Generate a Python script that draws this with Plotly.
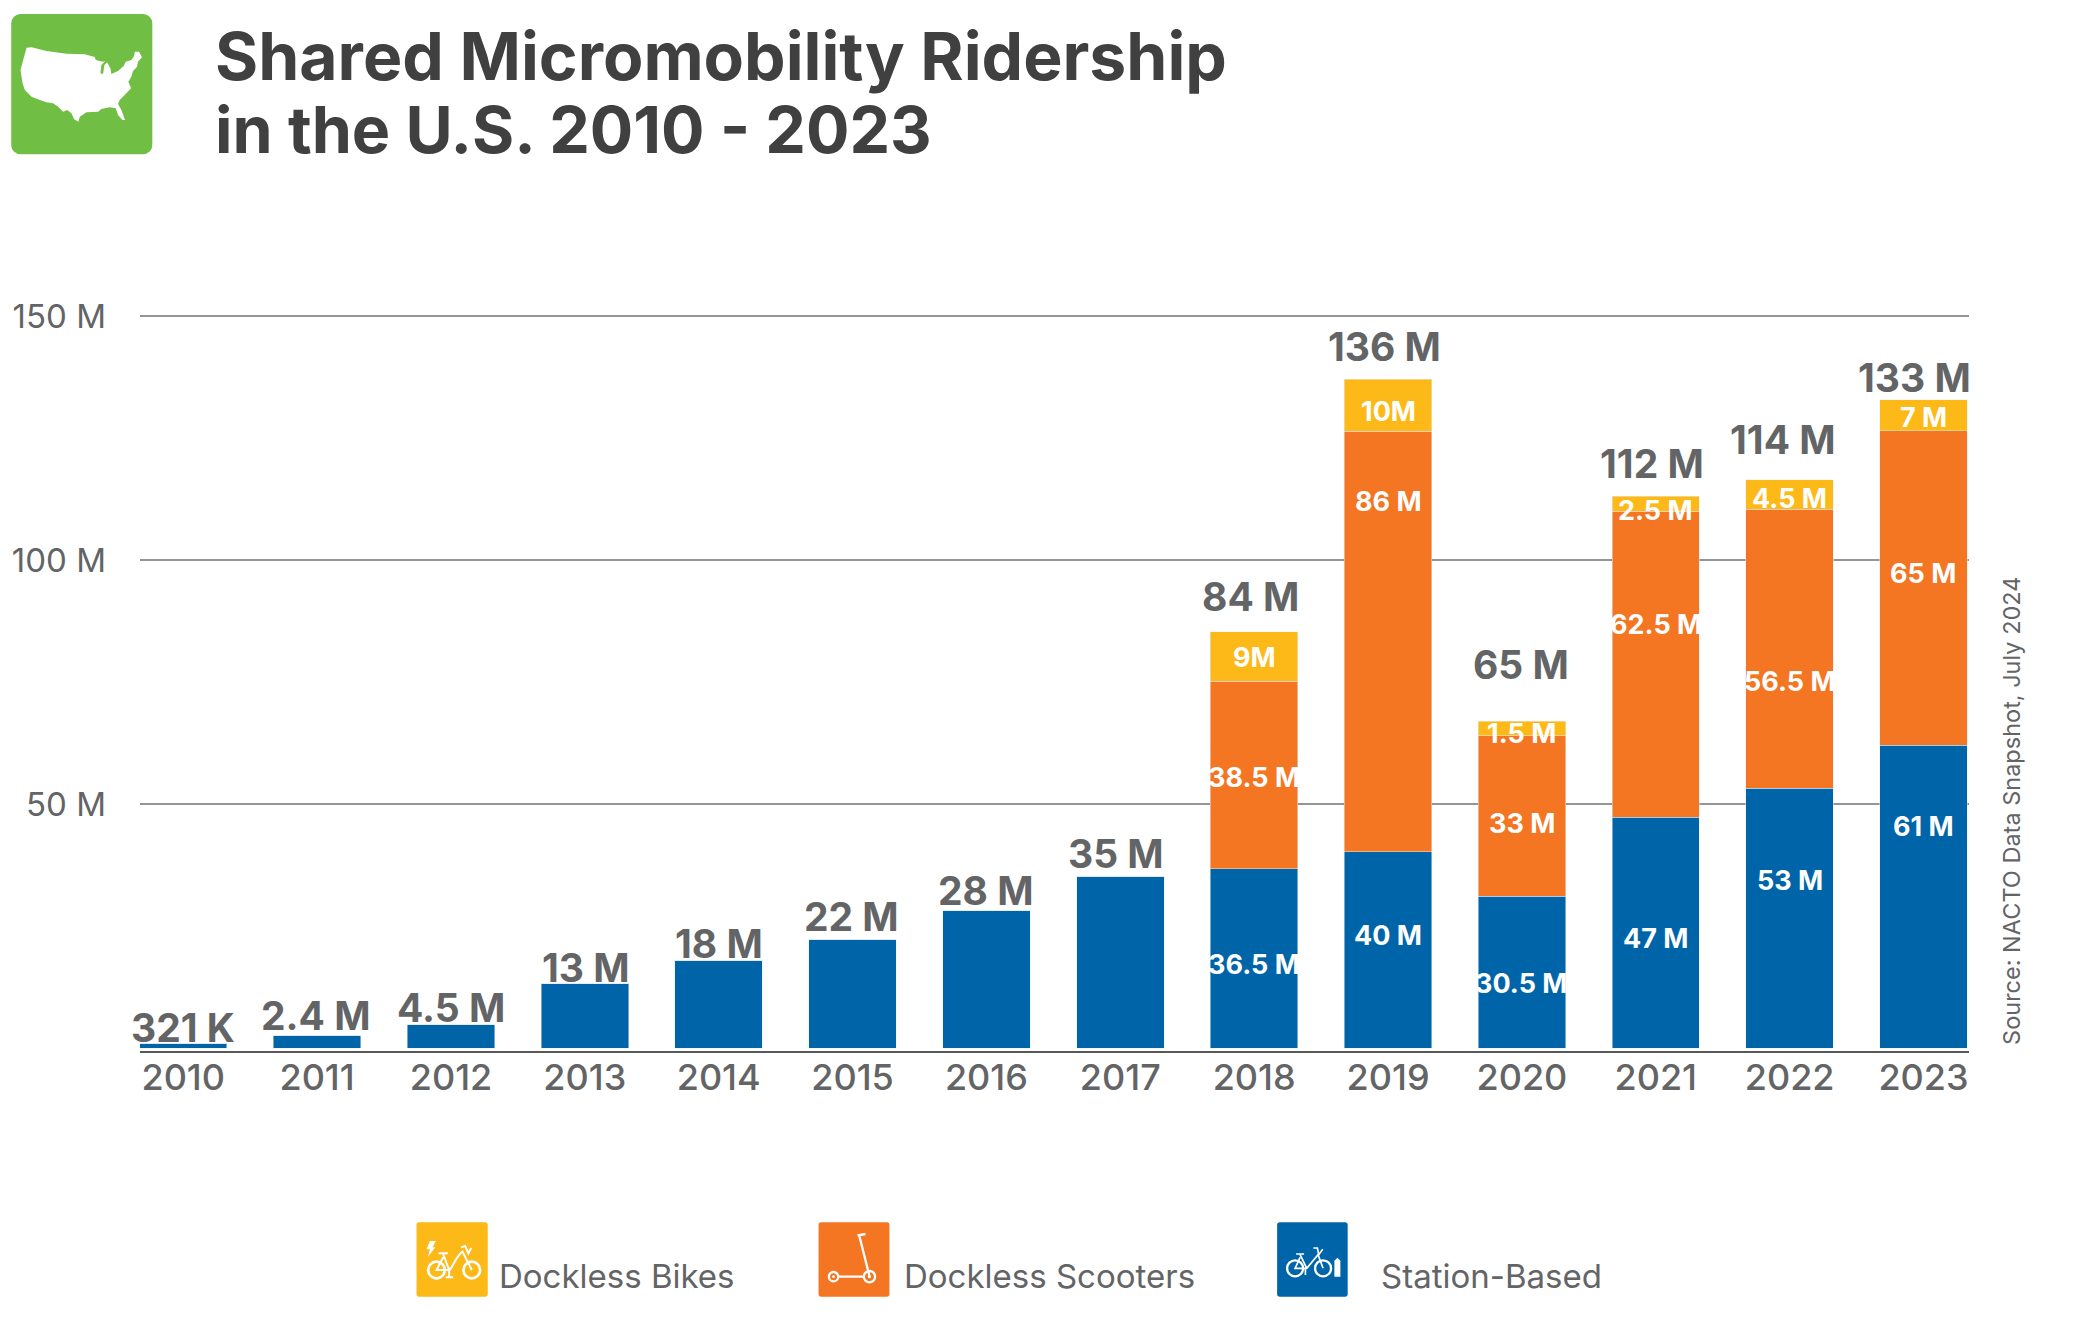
import base64
import plotly.graph_objects as go

years = list(range(2010, 2024))

# bar heights in millions
station_based = [1.0, 2.6, 4.8, 13.2, 18, 22.3, 28.1, 35.2, 36.7, 40.2, 31.1, 47.3, 53.2, 62]
dockless_scooters = [0, 0, 0, 0, 0, 0, 0, 0, 38.5, 86.2, 32.9, 62.7, 57.2, 64.5]
dockless_bikes = [0, 0, 0, 0, 0, 0, 0, 0, 10.1, 10.6, 3.0, 3.1, 6.0, 6.3]

total_labels = ["321 K", "2.4 M", "4.5 M", "13 M", "18 M", "22 M", "28 M", "35 M",
                "84 M", "136 M", "65 M", "112 M", "114 M", "133 M"]
stack_years = [2018, 2019, 2020, 2021, 2022, 2023]
station_labels = ["36.5 M", "40 M", "30.5 M", "47 M", "53 M", "61 M"]
scooter_labels = ["38.5 M", "86 M", "33 M", "62.5 M", "56.5 M", "65 M"]
bike_labels = ["9M", "10M", "1.5 M", "2.5 M", "4.5 M", "7 M"]

y_ticks = [50, 100, 150]
y_tick_labels = ["50 M", "100 M", "150 M"]

# where the labels sit on the y axis
total_label_y = [4.3, 6.7, 8.4, 16.5, 21.4, 26.9, 32.2, 39.9, 92.6, 143.7, 78.5, 119.8, 124.7, 137.4]
total_label_shift = [0, -1, 0, 1, 0, -1, 0, -4, -4, -4, -1, -4, -7, -9]
station_label_y = [17.1, 23, 13.2, 22.4, 34.4, 45.3]
scooter_label_y = [55.4, 111.9, 46.1, 86.8, 75.2, 97.2]
bike_label_y = [80.1, 130.4, 64.4, 110.2, 112.7, 129.2]

BLUE = "#0065A8"
ORANGE = "#F47522"
YELLOW = "#FDB917"
GREEN = "#70BF44"
GREY = "#636466"
FONT = "Inter"

# plot area in page pixels
LEFT, RIGHT, TOP, BOTTOM = 137, 1969, 314, 1051


def px_x(x):
    return (x - LEFT) / (RIGHT - LEFT)


def px_y(y):
    return (BOTTOM - y) / (BOTTOM - TOP)


def svg_uri(svg):
    return "data:image/svg+xml;base64," + base64.b64encode(svg.encode()).decode()


USA = ("M70,128 L85,127 L130,138 L190,146 L245,148 L275,156 L278,165 L300,170 L307,167 L295,180 "
       "L292,205 L300,207 L304,180 L312,172 L322,190 L325,207 L345,198 L362,183 L368,170 L385,165 "
       "L392,155 L396,140 L408,140 L417,157 L405,170 L402,185 L390,198 L385,215 L376,230 L384,250 "
       "L370,265 L350,285 L345,297 L355,315 L366,345 L358,345 L345,330 L338,310 L320,307 L295,312 "
       "L285,320 L250,322 L230,335 L226,350 L213,343 L205,325 L192,315 L180,320 L165,305 L150,295 "
       "L130,292 L110,285 L85,275 L65,255 L58,235 L52,195 L60,165 Z")
map_svg = (f'<svg xmlns="http://www.w3.org/2000/svg" viewBox="0 0 480 480">'
           f'<rect x="24" y="27" width="424" height="421" rx="28" fill="{GREEN}"/>'
           f'<path d="{USA}" fill="white"/></svg>')

bike_yellow = (f'<svg xmlns="http://www.w3.org/2000/svg" viewBox="0 0 270 270">'
               f'<rect x="12" y="7" width="214" height="223" rx="8" fill="{YELLOW}"/>'
               '<path d="M52,63 L70,63 L60,82 L68,82 L46,112 L52,88 L42,88 Z" fill="white"/>'
               '<g fill="none" stroke="white" stroke-width="8">'
               '<circle cx="72" cy="150" r="25"/><circle cx="178" cy="150" r="25"/>'
               '<path stroke-width="6" d="M78,100 H106 M92,102 L110,150 M92,112 L72,150 H112 '
               'C125,130 135,105 150,95 L178,150 M146,82 L158,78 L168,100 L176,84 M110,150 V172 M100,172 H122"/>'
               '</g></svg>')

scooter = (f'<svg xmlns="http://www.w3.org/2000/svg" viewBox="0 0 270 270">'
           f'<rect x="5" y="7" width="213" height="223" rx="8" fill="{ORANGE}"/>'
           '<g fill="none" stroke="white" stroke-width="7">'
           '<path d="M122,46 L146,42 M127,46 L158,168 M62,170 H140"/>'
           '<circle cx="50" cy="170" r="14"/><circle cx="158" cy="170" r="17"/></g>'
           '<circle cx="50" cy="170" r="4" fill="white"/><circle cx="158" cy="170" r="5" fill="white"/></svg>')

bike_blue = (f'<svg xmlns="http://www.w3.org/2000/svg" viewBox="0 0 270 270">'
             f'<rect x="3" y="7" width="212" height="223" rx="8" fill="{BLUE}"/>'
             '<g fill="none" stroke="white" stroke-width="7">'
             '<circle cx="57" cy="145" r="24"/><circle cx="141" cy="145" r="24"/>'
             '<path stroke-width="5" d="M60,102 H84 M72,104 L92,145 M72,112 L57,145 H92 L126,104 L141,145 '
             'M112,84 L124,84 L128,104 L140,88 M88,145 V165"/></g>'
             '<path d="M175,170 V122 L184,113 L193,122 V170 Z" fill="white"/></svg>')

fig = go.Figure()
fig.add_trace(go.Bar(x=years, y=station_based, name="Station-Based", marker_color=BLUE, width=0.653))
fig.add_trace(go.Bar(x=years, y=dockless_scooters, name="Dockless Scooters", marker_color=ORANGE, width=0.653))
fig.add_trace(go.Bar(x=years, y=dockless_bikes, name="Dockless Bikes", marker_color=YELLOW, width=0.653))

annotations = []
for year, text, y, shift in zip(years, total_labels, total_label_y, total_label_shift):
    annotations.append(dict(x=year, y=y, text=text, xshift=shift, showarrow=False,
                            font=dict(family=FONT, size=39, color=GREY, weight=700)))
for labels, label_y in [(station_labels, station_label_y), (scooter_labels, scooter_label_y), (bike_labels, bike_label_y)]:
    for year, text, y in zip(stack_years, labels, label_y):
        annotations.append(dict(x=year, y=y, text=text, showarrow=False,
                                font=dict(family=FONT, size=27, color="white", weight=700)))

# title lines, legend text and source note
for text, y, size in [("Shared Micromobility Ridership", 56, 66), ("in the U.S. 2010 - 2023", 130, 64.5)]:
    annotations.append(dict(xref="paper", yref="paper", x=px_x(210), y=px_y(y), text=text, showarrow=False,
                            xanchor="left", yanchor="middle",
                            font=dict(family=FONT, size=size, color="#404041", weight=700)))
for text, x in [("Dockless Bikes", 495), ("Dockless Scooters", 900), ("Station-Based", 1378)]:
    annotations.append(dict(xref="paper", yref="paper", x=px_x(x), y=px_y(1276), text=text, showarrow=False,
                            xanchor="left", yanchor="middle", font=dict(family=FONT, size=33, color=GREY)))
annotations.append(dict(xref="paper", yref="paper", x=px_x(2011), y=px_y(811), text="Source: NACTO Data Snapshot, July 2024",
                        textangle=-90, showarrow=False, xanchor="center", yanchor="middle",
                        font=dict(family=FONT, size=23.5, color=GREY)))

images = []
for svg, x, y, size in [(map_svg, 0, 5, 160), (bike_yellow, 410, 1220, 90), (scooter, 815, 1220, 90), (bike_blue, 1275, 1220, 90)]:
    images.append(dict(source=svg_uri(svg), xref="paper", yref="paper", x=px_x(x), y=px_y(y),
                       sizex=size / (RIGHT - LEFT), sizey=size / (BOTTOM - TOP),
                       xanchor="left", yanchor="top", sizing="stretch", layer="above"))

fig.update_layout(
    width=2080,
    height=1336,
    barmode="stack",
    showlegend=False,
    plot_bgcolor="white",
    paper_bgcolor="white",
    margin=dict(l=LEFT, r=2080 - RIGHT, t=TOP, b=1336 - BOTTOM, pad=0),
    annotations=annotations,
    images=images,
)
fig.update_xaxes(range=[2009.677, 2023.34], tickmode="array", tickvals=years, showgrid=False,
                 showline=True, linecolor="#58595B", linewidth=2, ticks="", ticklabelstandoff=-6,
                 tickfont=dict(family=FONT, size=36, color=GREY, weight=500))
fig.update_yaxes(range=[-0.6, 150.4], tickmode="array", tickvals=y_ticks, ticktext=y_tick_labels,
                 showgrid=True, gridcolor="#939598", gridwidth=1.5, zeroline=False, showline=False, ticks="",
                 ticklabelstandoff=33, tickfont=dict(family=FONT, size=33, color=GREY))

fig.write_html("out.html", config={"displayModeBar": False}, post_script="document.body.style.margin='0';")
